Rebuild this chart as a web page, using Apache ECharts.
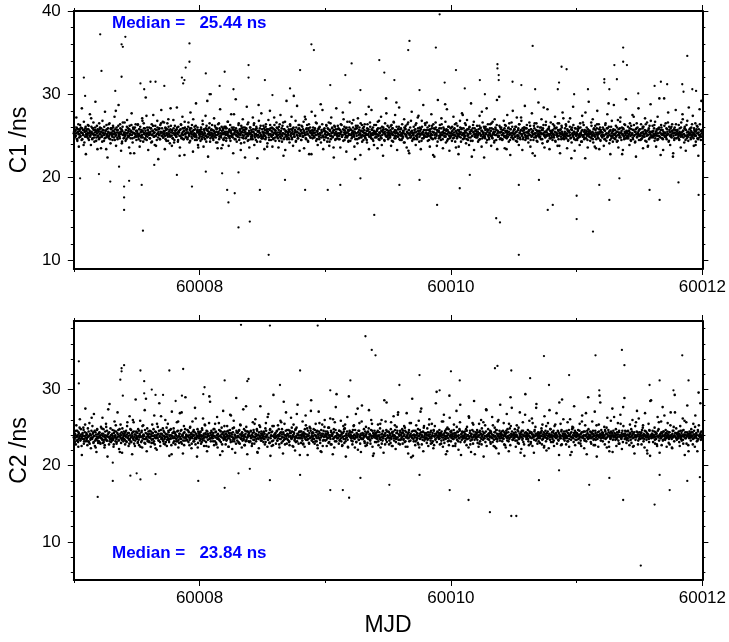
<!DOCTYPE html>
<html><head><meta charset="utf-8">
<script src="https://cdn.jsdelivr.net/npm/echarts@6/dist/echarts.min.js"></script>
<style>html,body{margin:0;padding:0;background:#fff}#chart{width:729px;height:642px}</style>
</head><body><div id="chart"></div><script>
// ---- axes / ticks ----
const xMin = 60007, xMax = 60012;
const xMajorTicks = [60008, 60010, 60012];
const xMinorTicks = [60007, 60009, 60011];
const c1Min = 9, c1Max = 40;
const c1MajorTicks = [10, 20, 30, 40];
const c1MinorTicks = [12, 14, 16, 18, 22, 24, 26, 28, 32, 34, 36, 38];
const c2Min = 5, c2Max = 39;
const c2MajorTicks = [10, 20, 30];
const c2MinorTicks = [6, 8, 12, 14, 16, 18, 22, 24, 26, 28, 32, 34, 36, 38];
const c1Median = 25.44, c2Median = 23.84;
const xTitle = 'MJD', c1Title = 'C1 /ns', c2Title = 'C2 /ns';

// ---- regularly sampled band values (ns); two interleaved sample sets per panel ----
const bandStep = 0.004;
const bandStartA = 60007, bandStartB = 60007.002;
const c1BandA = [
25.3,26.1,24.8,25.6,25.0,27.2,25.9,24.4,25.5,26.4,23.7,25.2,25.8,24.9,26.0,25.4,28.3,24.6,25.7,25.1,26.7,24.2,25.5,25.9,22.8,
25.6,24.9,25.2,26.3,25.8,24.5,25.0,27.6,25.4,23.9,26.1,25.3,24.7,25.9,26.6,25.1,24.3,25.7,29.1,25.5,24.8,26.2,23.4,25.0,25.6,
24.6,25.8,26.0,25.2,23.5,25.5,24.9,26.8,25.3,25.7,24.4,25.1,27.9,25.6,24.8,26.3,25.0,22.4,25.9,25.4,24.7,26.5,25.2,24.1,25.8,
25.9,25.1,24.5,26.2,25.6,24.8,27.3,25.3,25.0,23.8,26.0,25.7,24.6,25.4,28.7,25.2,24.9,26.4,25.5,23.2,25.8,24.3,26.1,25.1,24.7,
25.2,26.6,25.0,24.4,25.7,25.3,26.9,24.8,25.9,25.5,23.6,26.2,25.1,24.7,25.6,27.7,25.4,24.2,26.0,25.8,22.9,25.3,24.9,26.4,25.0,
24.9,25.5,26.3,25.1,24.6,25.8,23.7,26.1,25.4,24.8,25.0,27.1,25.6,24.3,26.5,25.2,25.9,24.7,29.6,25.3,24.5,26.0,25.7,23.3,25.4,
26.0,24.7,25.3,25.9,24.2,26.4,25.1,25.6,27.5,24.9,25.4,23.9,26.2,25.0,25.7,24.5,26.8,25.3,22.2,25.8,25.1,24.6,26.3,25.5,28.1,
25.4,25.0,26.7,24.8,25.6,25.2,23.4,26.0,25.9,24.4,25.3,26.5,24.9,27.0,25.5,25.1,24.1,25.8,26.2,25.0,23.8,25.6,24.7,26.9,25.3,
24.5,26.2,25.1,25.7,24.9,28.4,25.4,24.3,26.1,25.6,25.0,23.6,25.8,26.4,24.7,25.2,27.3,25.5,24.6,25.9,22.7,26.0,25.3,24.8,25.7,
25.8,24.6,25.4,26.6,25.1,24.2,25.9,27.8,25.3,24.9,26.3,25.5,23.1,25.0,25.7,26.1,24.5,25.2,28.9,24.8,25.6,26.0,23.9,25.4,24.7,
25.1,25.7,24.4,26.0,25.5,24.9,26.8,25.2,23.7,25.8,25.3,24.6,27.4,25.0,26.2,24.8,25.6,22.5,25.9,25.3,26.5,24.3,25.1,25.7,24.9,
26.3,25.2,24.7,25.6,27.1,24.9,25.4,26.0,24.2,25.8,25.1,23.5,26.4,25.5,24.6,25.9,28.2,25.0,24.8,26.1,25.3,23.9,25.7,24.5,25.2,
24.8,25.5,26.1,24.4,25.9,25.2,26.7,25.0,23.8,25.6,24.7,26.3,25.4,27.6,24.9,25.1,25.8,22.9,26.0,25.3,24.6,25.7,29.4,25.1,24.3,
25.6,24.9,25.3,26.5,24.5,25.8,25.1,23.3,26.2,25.4,24.8,27.0,25.7,25.0,24.2,26.0,25.5,24.7,25.9,28.5,25.2,24.4,26.6,25.3,23.6,
25.3,26.0,24.6,25.7,25.1,24.9,27.2,25.5,26.3,23.9,25.2,25.8,24.5,26.1,25.0,22.3,25.6,24.8,26.8,25.4,25.9,24.3,25.1,27.7,24.7,
24.9,25.4,26.2,25.0,23.4,25.7,24.6,26.4,25.3,25.8,24.1,25.5,26.9,24.8,25.2,28.0,25.9,24.5,25.6,26.0,23.7,25.1,24.7,25.8,26.3,
25.7,24.4,25.2,26.6,25.0,25.9,24.7,23.6,26.1,25.4,24.9,27.5,25.6,25.1,24.3,26.2,25.3,22.6,25.8,24.8,26.7,25.5,25.0,29.2,24.6,
26.1,25.3,24.8,25.6,24.2,26.4,25.1,25.8,27.3,24.6,25.5,23.8,26.0,25.2,24.9,25.7,26.8,24.4,25.4,28.6,25.0,24.7,26.3,25.9,23.2,
25.0,25.6,24.5,26.2,25.3,24.9,25.8,26.7,23.5,25.4,25.1,27.0,24.6,25.9,26.3,25.2,24.3,25.7,22.8,25.5,26.0,24.8,25.3,27.9,25.1,
24.7,26.0,25.4,24.9,25.7,27.4,25.1,24.4,26.5,25.6,23.9,25.2,25.9,24.6,26.1,25.3,28.8,24.8,25.5,26.4,25.0,23.4,25.8,24.5,25.6,
25.5,24.8,26.3,25.1,24.3,25.9,25.2,26.6,23.8,25.7,25.0,24.6,27.2,25.4,26.0,24.9,25.6,22.4,26.2,25.3,24.5,25.8,28.3,25.1,24.7,
26.2,25.0,24.6,25.8,25.3,23.6,26.4,25.5,24.9,25.1,27.8,24.4,25.7,26.1,25.2,24.8,25.9,23.1,25.4,26.7,25.0,24.3,25.6,26.0,29.0,
24.4,25.7,25.2,26.5,24.9,25.4,26.9,25.0,23.7,25.8,24.6,26.2,25.3,25.9,24.1,27.1,25.5,24.7,26.0,25.2,22.7,25.6,24.8,26.3,25.1,
25.9,24.5,26.1,25.3,25.0,24.7,27.6,25.6,24.2,26.4,25.1,25.8,23.4,25.4,26.6,24.9,25.2,28.1,25.7,24.6,26.0,25.3,23.9,25.5,24.8,
25.2,26.3,24.8,25.6,23.5,25.9,25.1,26.8,24.5,25.4,25.0,27.3,24.7,26.1,25.5,22.6,25.8,25.3,24.4,26.5,25.0,29.5,24.9,25.7,26.2,
24.6,25.4,26.0,25.1,24.8,25.7,23.8,26.3,25.2,25.9,24.3,26.7,25.5,25.0,27.5,24.7,25.6,26.1,23.3,25.3,24.9,25.8,28.4,25.1,24.5,
25.8,25.0,24.5,26.4,25.3,24.9,25.6,27.0,24.2,25.9,26.2,25.1,23.6,25.4,24.7,26.6,25.7,22.9,25.2,26.0,24.8,25.5,27.9,24.4,25.3,
25.1,26.1,25.4,24.6,25.8,23.9,26.5,25.0,24.8,27.2,25.6,25.2,24.3,26.0,25.9,23.4,25.3,26.8,24.7,25.5,28.7,25.1,24.9,25.7,26.3,
24.9,25.3,26.6,25.2,24.4,25.7,25.0,26.2,23.7,25.5,24.8,27.6,25.9,25.1,24.6,26.4,25.4,22.5,25.8,24.7,26.0,25.2,23.8,25.6,29.3,
25.6,24.7,25.9,26.3,25.0,24.5,27.1,25.4,25.1,23.5,26.0,25.7,24.9,25.3,26.7,24.2,25.8,28.2,25.2,24.6,25.5,26.1,23.2,25.0,24.8,
25.3,26.0,24.4,25.6,25.1,27.3,24.8,25.9,26.4,25.0,23.6,25.5,24.7,26.2,25.2,22.8,25.7,24.9,26.8,25.4,24.3,25.8,27.7,25.1,24.6,
25.9,25.2,24.7,26.5,25.4,24.1,25.7,26.9,25.0,24.5,25.8,23.9,26.1,25.3,24.8,28.9,25.6,25.0,24.4,26.3,25.5,23.3,25.9,24.9,25.2,
24.8,25.5,26.2,25.0,24.3,25.8,25.3,27.4,24.6,26.0,25.1,23.7,25.6,26.6,24.9,25.4,22.4,25.9,24.7,26.1,25.2,28.3,24.5,25.7,25.0,
25.7,24.6,25.3,26.4,25.0,23.8,25.9,24.8,26.7,25.2,25.5,24.2,27.0,25.1,25.8,24.5,26.3,23.4,25.6,25.0,24.9,29.7,25.4,26.0,24.7,
26.0,25.1,24.5,25.7,25.3,26.8,24.9,23.5,25.6,26.2,25.0,24.7,27.5,25.4,25.9,24.3,26.5,25.2,22.7,25.8,24.8,25.3,26.1,28.0,24.6,
25.2,25.8,24.9,26.1,24.4,25.5,27.2,25.0,24.7,25.9,23.9,26.4,25.3,24.6,25.7,26.8,25.1,23.3,25.6,24.8,26.0,25.4,28.6,24.5,25.9,
24.7,26.3,25.4,25.0,24.2,25.7,26.6,25.1,23.7,25.8,24.9,27.7,25.5,25.2,24.5,26.2,25.9,22.6,25.3,24.8,26.5,25.0,24.3,25.6,29.0,
25.5,24.8,26.0,25.3,24.6,27.0,25.7,24.1,25.9,26.3,25.1,23.6,25.4,24.9,26.7,25.6,25.0,28.2,24.4,25.8,26.1,23.4,25.2,24.7,25.5,
25.0,25.6,24.5,26.4,25.2,24.8,25.9,27.3,24.3,25.4,26.0,25.1,23.8,25.7,24.6,26.5,25.3,22.9,25.8,24.9,26.2,25.5,27.8,24.7,25.1,
24.6,25.3,25.9,24.9,26.2,25.1,23.5,25.6,24.4,26.7,25.0,25.4,27.1,24.7,25.8,24.2,26.0,25.2,28.5,24.8,25.5,23.2,25.9,24.5,25.0,
25.2,24.5,25.8,26.1,24.8,25.0,23.9,26.5,25.3,24.3,25.6,27.4,24.9,25.1,26.3,24.6,25.7,22.3,25.4,24.7,26.0,25.2,23.6,25.5,29.1,
24.9,25.6,24.4,25.3,26.6,24.7,25.1,27.0,24.2,25.8,25.0,23.7,26.2,25.4,24.6,25.9,28.0,24.8,25.2,26.4,23.4,25.5,24.5,25.7,25.0,
25.4,24.8,26.0,25.1,23.8,25.7,24.6,26.3,25.2,24.4,25.9,27.6,24.9,25.3,26.1,24.1,25.6,22.8,25.0,24.7,26.8,25.5,24.3,25.8,28.7,
25.1,25.7,24.6,26.2,25.0,24.3,25.5,26.9,23.6,25.2,24.8,25.9,27.2,25.4,24.5,26.0,25.1,23.3,25.8,24.9,26.4,25.3,24.7,29.4,25.6,
24.7,25.3,26.1,24.9,25.6,23.9,26.5,25.0,24.4,25.8,25.2,27.5,24.6,25.7,26.3,25.1,24.2,25.5,22.5,25.9,24.8,26.0,25.3,28.3,24.5,
25.8,25.0,24.5,26.4,25.3,24.7,25.9,23.5,26.1,25.2,24.9,27.1,25.6,25.4,24.3,26.6,25.1,23.8,25.7,24.6,26.2,25.5,28.8,24.8,25.0,
25.5,26.2,24.8,25.1,25.9,24.4,26.7,25.3,23.7,25.6,25.0,27.3,24.6,25.8,26.0,24.9,25.4,22.7,26.3,25.2,24.7,25.7,23.3,25.1,29.5,
24.9,25.4,26.5,25.0,24.6,25.8,25.2,27.8,24.3,26.1,25.5,23.9,25.9,25.1,24.8,26.4,25.6,22.9,25.3,24.5,26.0,25.7,28.1,24.7,25.2,
25.7,24.8,25.3,26.3,24.5,25.9,25.1,23.6,26.6,25.4,24.9,27.0,25.6,25.2,24.2,26.1,25.8,23.2,25.0,24.7,26.8,25.5,24.4,28.4,25.3,
25.1,25.9,24.6,26.0,25.4,24.9,27.4,25.2,23.8,25.7,25.0,26.5,24.3,25.6,26.2,24.7,25.3,22.6,25.8,24.8,26.4,25.1,24.5,29.2,25.6
];
const c1BandB = [
25.5,25.1,24.9,25.7,25.3,26.0,24.6,25.4,25.8,25.2,24.8,25.6,26.3,25.0,25.4,24.5,25.9,25.3,25.1,23.9,25.7,25.5,24.9,26.1,25.2,
25.0,25.8,25.4,24.7,26.2,25.3,25.6,24.9,25.1,27.1,25.5,24.6,25.9,25.2,25.7,24.8,25.4,26.0,25.1,24.4,25.6,25.3,25.8,24.9,25.5,
26.5,25.2,24.8,25.5,25.9,25.0,24.3,25.7,25.4,25.1,26.1,24.7,25.3,25.6,23.4,25.8,25.2,24.9,25.5,26.4,25.0,25.3,24.6,25.9,25.4,
25.3,24.9,25.6,26.0,25.2,25.5,24.5,25.8,28.0,25.1,25.4,24.8,25.7,26.2,25.0,25.3,24.7,25.9,25.5,25.2,24.1,25.6,26.6,25.1,25.4,
24.8,25.4,25.1,25.7,24.6,26.1,25.3,25.0,25.6,24.9,25.8,25.2,22.9,25.5,26.3,25.1,24.7,25.4,25.9,25.3,24.8,26.0,25.2,25.6,24.5,
25.6,25.3,26.4,24.9,25.2,25.8,25.0,24.4,25.5,25.7,25.1,26.8,24.8,25.4,25.9,25.3,24.6,25.6,25.0,27.4,25.2,24.9,25.7,25.4,25.1,
25.2,24.7,25.5,25.9,25.1,24.3,25.6,26.2,25.3,24.9,25.4,25.8,25.0,23.8,25.7,25.2,26.0,24.8,25.5,25.1,25.9,24.6,25.3,26.5,25.0,
25.9,25.4,24.8,25.2,26.6,25.5,25.0,24.6,25.7,25.3,25.1,25.8,24.4,26.1,25.2,25.6,24.9,28.3,25.4,25.0,25.7,24.7,25.3,25.9,24.2,
25.1,25.6,25.3,24.9,25.8,26.0,25.2,24.5,25.5,25.4,22.6,25.7,25.0,26.3,24.8,25.3,25.9,25.1,24.6,25.6,26.7,25.2,24.9,25.4,25.8,
25.4,24.8,26.1,25.3,25.0,25.7,24.4,25.5,25.9,25.2,24.7,25.6,27.0,25.1,25.3,24.9,25.8,26.2,25.0,24.5,25.4,25.7,23.6,25.5,25.2,
24.9,25.5,25.2,25.8,24.6,25.4,26.4,25.1,24.8,25.6,25.3,25.0,25.9,24.3,25.7,29.2,25.2,24.9,25.5,26.0,25.1,24.7,25.4,25.8,25.3,
25.7,25.0,24.5,25.6,25.3,26.2,25.1,24.8,25.5,25.9,24.2,25.4,25.2,26.5,24.9,25.7,25.3,25.0,23.5,25.6,25.2,25.9,24.6,25.4,26.1,
25.3,25.9,25.1,24.7,25.5,25.2,26.7,25.4,24.9,25.8,25.0,24.4,25.6,25.3,26.0,25.1,24.8,25.7,27.6,25.2,25.5,24.6,25.9,25.0,25.4,
25.0,25.4,26.3,25.2,24.8,25.6,25.3,24.1,25.9,25.5,25.1,26.0,24.7,25.4,25.7,22.4,25.2,25.8,24.9,25.3,26.4,25.0,24.5,25.6,25.2,
26.0,25.3,24.9,25.5,25.1,24.6,25.8,25.4,26.5,25.0,24.8,25.7,25.2,25.9,24.3,25.5,25.1,28.7,25.6,24.9,25.3,26.2,25.0,24.7,25.8,
25.5,24.7,25.2,25.9,25.4,25.0,26.1,24.8,25.6,23.7,25.3,25.8,25.1,24.5,25.7,26.3,25.2,25.0,24.9,25.5,25.9,24.6,25.3,27.2,25.4,
24.8,25.6,25.3,26.0,24.9,25.4,25.1,25.7,24.4,26.4,25.2,25.5,24.7,25.9,25.0,25.3,26.6,24.6,25.8,25.2,23.3,25.6,25.1,24.9,25.5,
25.4,25.1,25.8,24.6,25.5,26.2,25.0,25.3,24.8,25.7,25.9,25.2,29.8,24.9,25.4,25.6,24.3,26.0,25.1,25.5,24.7,25.8,25.3,26.3,25.0,
25.2,25.7,24.5,25.4,26.1,25.0,24.9,25.6,25.3,27.3,25.1,24.7,25.8,25.5,25.2,24.4,25.9,26.4,25.0,25.4,24.8,25.6,22.8,25.3,25.7,
25.6,25.0,25.3,24.8,25.9,25.4,26.6,25.1,24.6,25.5,25.2,25.8,24.9,26.0,25.3,25.1,24.2,25.7,25.4,28.1,25.0,24.8,25.6,25.9,25.2,
24.9,25.5,26.2,25.1,25.4,24.7,25.8,25.2,24.3,25.6,26.5,25.0,25.3,25.9,24.8,25.4,23.6,25.7,25.1,26.1,24.6,25.5,25.2,25.0,25.8,
25.3,25.9,25.0,24.6,25.7,25.2,25.5,26.3,24.9,25.1,25.8,27.0,25.4,24.5,25.6,25.3,25.0,26.0,24.8,25.4,25.7,24.4,25.2,26.7,25.1,
25.8,25.1,24.7,25.4,25.6,26.0,25.2,24.9,25.5,22.2,25.3,25.9,25.0,24.6,26.2,25.4,25.1,25.7,24.8,25.3,26.5,25.0,25.6,24.3,25.5,
25.0,25.4,25.7,26.4,24.8,25.3,25.1,24.5,25.9,25.6,25.2,28.5,24.9,25.5,26.1,25.0,24.7,25.8,25.3,25.1,24.4,25.6,26.3,25.2,25.4,
25.5,24.9,25.2,25.8,26.7,25.0,24.6,25.4,25.3,25.9,24.8,25.6,23.9,25.1,25.7,26.0,25.3,24.5,25.5,25.2,25.8,27.7,24.9,25.4,25.0,
25.2,25.6,24.8,25.3,25.0,26.2,25.5,24.4,25.9,25.1,25.4,26.6,24.7,25.7,25.3,25.0,29.0,25.4,24.9,25.8,25.2,26.1,24.6,25.5,25.1,
25.9,25.3,25.1,24.7,25.6,25.4,24.2,26.0,25.2,25.8,25.0,24.9,25.5,26.4,25.3,23.2,25.7,25.1,24.8,25.4,26.8,25.0,25.6,25.3,24.6,
25.1,24.8,25.7,25.4,26.3,25.0,25.5,24.6,25.2,25.9,27.4,25.3,24.9,25.6,25.1,25.8,24.4,26.1,25.2,25.4,24.7,25.7,25.0,26.5,25.3,
25.4,25.7,24.9,26.0,25.1,25.3,24.5,25.6,25.8,25.0,25.2,24.7,26.2,25.5,22.7,25.4,25.9,25.1,24.8,26.6,25.3,25.0,25.7,24.3,25.5,
25.6,25.0,25.4,24.8,25.2,25.9,26.4,25.1,24.6,25.5,25.3,25.8,25.0,28.8,24.9,25.6,25.2,24.4,25.7,26.1,25.4,25.0,24.7,25.3,25.9,
25.0,25.5,26.1,25.2,24.7,25.8,25.4,25.1,24.3,25.6,26.5,25.3,24.9,25.7,25.0,23.7,25.5,25.2,26.0,24.8,25.4,25.9,25.1,27.5,25.3,
25.3,24.9,25.6,25.0,26.3,25.4,24.6,25.8,25.2,25.1,24.8,26.0,25.5,25.3,24.4,25.7,22.5,25.0,25.9,25.4,26.7,25.2,24.9,25.6,25.1,
25.7,25.2,24.8,25.5,25.1,24.5,26.2,25.3,25.9,25.0,25.6,27.9,24.7,25.4,25.2,26.1,25.0,24.9,25.7,25.3,24.2,25.8,25.5,26.4,25.1,
24.8,25.4,25.9,25.1,25.6,26.5,25.0,24.7,25.3,25.8,25.2,24.4,25.5,26.0,25.1,25.7,29.3,25.3,24.9,25.5,25.0,26.2,24.6,25.4,25.8,
25.5,25.1,24.6,25.7,25.3,25.0,25.9,26.3,24.8,25.4,23.4,25.6,25.2,24.9,26.0,25.5,25.1,24.5,25.8,25.3,26.6,25.0,25.4,24.7,25.6,
25.2,25.8,25.3,24.9,26.1,25.5,24.3,25.1,25.7,25.0,26.4,25.4,24.8,25.6,27.2,25.2,25.0,25.9,24.6,25.3,25.7,26.0,25.1,24.9,25.4,
25.9,25.0,25.5,24.7,25.3,25.6,25.1,26.2,24.5,25.8,25.4,25.0,22.9,25.6,25.2,24.8,26.5,25.3,25.0,25.7,24.4,25.5,26.1,25.2,25.0,
25.1,25.6,24.9,25.4,26.0,25.2,24.6,25.7,25.3,28.4,25.0,25.5,24.8,26.3,25.1,25.4,24.3,25.8,25.2,25.9,25.0,24.7,25.6,26.6,25.3,
25.4,24.8,25.7,25.2,25.0,26.2,25.5,24.4,25.9,25.1,25.3,24.9,26.5,25.6,25.0,23.8,25.4,25.7,25.2,24.6,26.0,25.3,25.1,27.1,24.9,
25.0,25.5,25.2,26.4,24.7,25.3,25.8,25.0,24.5,25.6,25.4,26.1,25.1,24.8,22.3,25.7,25.3,25.0,26.3,25.5,24.6,25.2,25.9,25.1,25.4,
25.3,24.7,25.6,25.0,25.9,25.2,24.9,26.0,25.4,25.1,24.3,25.7,26.6,25.0,25.5,24.8,25.2,27.8,25.4,25.6,25.0,24.5,25.8,25.1,25.3,
25.6,25.2,24.8,25.4,26.2,25.0,25.5,24.6,25.3,25.9,25.1,24.9,25.7,23.5,25.2,26.4,25.0,25.4,24.7,25.8,25.3,26.0,24.4,25.5,25.1,
24.9,25.4,25.1,25.8,25.0,24.6,25.6,26.5,25.2,25.3,24.8,25.9,25.0,28.9,25.5,25.1,24.5,25.7,26.1,25.3,25.0,24.9,25.6,25.2,24.7,
25.2,25.7,25.3,24.9,25.5,26.0,24.4,25.1,25.8,25.4,25.0,26.7,24.8,25.3,25.6,22.8,25.2,25.9,25.0,24.6,25.5,26.3,25.1,25.4,24.9,
25.5,25.0,24.7,25.6,25.2,25.9,25.4,24.5,26.2,25.1,25.3,24.8,25.7,27.3,25.0,25.5,24.3,25.8,25.2,26.5,24.9,25.4,25.1,25.6,25.0,
25.1,25.8,25.3,24.6,25.4,25.0,26.1,25.5,24.9,25.2,25.7,24.4,26.4,25.3,25.0,25.6,23.7,25.1,25.9,25.4,24.8,25.2,26.8,25.0,25.5,
25.4,24.9,25.6,25.2,26.3,25.0,24.7,25.5,25.1,25.8,24.5,25.3,25.9,25.0,29.5,25.4,24.8,25.7,26.0,25.2,25.1,24.6,25.5,25.3,26.2,
25.0,25.3,24.8,25.9,25.1,25.5,26.6,25.2,24.4,25.7,25.0,25.4,24.9,26.1,25.6,25.3,22.5,25.0,25.8,24.7,25.4,25.1,26.4,25.2,25.5,
25.7,25.2,25.0,24.6,25.5,25.3,24.9,26.0,25.4,25.1,27.6,25.6,24.8,25.2,25.9,25.0,24.5,25.7,26.3,25.4,25.1,24.9,25.5,25.2,25.8,
25.3,24.8,25.6,25.1,26.4,25.0,25.4,24.7,25.9,25.2,25.5,23.9,25.0,25.8,25.3,26.1,24.6,25.4,25.1,28.2,25.0,25.6,24.9,25.3,25.7
];
const c2BandA = [
23.7,24.5,23.1,24.0,22.8,25.3,23.9,24.6,23.4,22.5,24.2,23.8,26.1,23.3,24.8,23.6,21.4,24.1,23.9,25.0,22.9,23.5,24.4,27.5,23.2,
24.3,23.6,22.7,24.9,23.8,23.1,25.6,24.0,23.4,22.3,24.6,23.7,25.2,24.2,23.0,26.8,23.9,22.6,24.4,23.5,21.8,24.7,23.3,24.1,23.8,
23.2,24.4,23.9,22.9,25.1,23.6,24.2,26.3,23.0,24.8,23.4,22.4,24.0,23.7,25.5,23.3,24.6,21.2,23.8,24.3,22.8,28.1,23.5,24.9,23.1,
24.0,23.3,24.7,23.6,22.5,24.3,25.8,23.9,23.2,24.5,22.9,23.7,27.0,24.1,23.4,22.2,24.8,23.8,25.4,23.0,24.4,21.7,23.6,24.2,23.9,
23.5,24.2,22.8,23.9,24.6,23.1,25.2,23.7,24.3,22.6,23.4,26.5,24.0,23.2,24.7,23.8,21.5,24.4,23.6,25.7,22.9,24.1,23.3,28.7,24.5,
24.4,23.7,23.0,24.8,23.4,22.7,24.2,25.9,23.8,23.1,24.6,22.4,23.9,25.3,24.0,23.5,27.3,22.9,24.3,23.6,21.9,24.9,23.2,24.1,23.7,
23.1,24.6,23.8,22.5,24.1,23.4,25.4,24.3,23.0,23.9,26.6,22.8,24.5,23.6,24.0,22.1,23.7,25.1,24.2,23.3,28.2,23.9,22.6,24.7,23.5,
24.2,23.5,24.9,23.2,22.9,24.4,23.7,26.0,23.1,24.1,22.6,23.8,25.5,24.6,23.4,21.3,24.0,23.6,24.8,22.7,27.1,23.9,24.3,23.0,24.5,
23.8,24.3,22.8,24.0,23.5,25.7,23.2,24.6,22.4,23.9,24.2,26.9,23.6,23.1,24.7,22.9,24.1,21.6,23.7,25.2,24.4,23.3,29.0,23.8,24.0,
23.4,24.7,23.9,23.1,24.4,22.7,25.0,23.6,24.1,22.3,23.8,25.8,24.5,23.2,24.0,23.5,27.6,22.8,24.2,23.7,21.2,24.8,23.0,24.3,23.9,
24.1,23.3,24.5,22.9,23.8,24.9,23.4,26.2,24.0,22.6,23.7,25.3,24.3,23.1,24.6,21.9,23.9,24.2,22.5,25.6,23.5,28.4,24.0,23.6,24.4,
23.6,24.0,23.2,24.8,22.7,23.9,25.5,24.4,23.0,23.7,26.4,22.4,24.1,23.5,24.7,23.3,21.4,24.5,23.8,25.0,22.8,24.2,27.2,23.4,23.9,
24.5,23.7,22.8,24.2,23.4,25.2,23.9,24.6,22.5,23.6,24.0,26.7,23.1,24.3,23.8,22.2,24.9,23.5,25.9,23.2,24.1,21.7,23.7,28.9,24.4,
23.3,24.4,23.8,23.0,24.7,22.9,25.4,24.1,23.6,22.4,24.3,23.9,27.4,23.4,24.0,22.7,24.6,23.2,25.1,23.7,21.5,24.5,23.9,24.2,23.1,
23.9,23.2,24.6,23.7,22.6,24.0,25.7,23.4,24.4,22.9,23.8,26.1,24.2,23.5,24.8,21.8,23.6,24.1,22.3,25.3,23.9,27.8,23.3,24.5,23.7,
24.2,23.8,23.1,24.5,23.5,22.8,24.9,25.6,23.7,24.0,22.5,23.4,26.8,24.3,23.0,24.7,21.3,23.9,24.4,23.2,25.2,22.7,29.3,23.8,24.1,
23.6,24.3,22.9,23.8,24.6,23.3,25.3,23.9,24.1,22.4,23.5,25.9,24.4,23.0,24.8,23.7,21.6,24.2,23.4,25.5,22.8,24.0,27.0,23.6,24.7,
24.0,23.4,24.7,23.1,22.7,24.3,23.8,26.3,23.5,24.5,22.6,23.9,25.4,24.2,23.3,22.0,24.8,23.7,25.0,23.2,28.0,24.1,22.9,24.4,23.6,
23.7,24.5,23.0,24.1,23.6,25.8,22.8,24.4,23.9,22.5,24.2,26.6,23.4,23.8,24.9,21.4,23.5,24.0,22.9,25.1,23.7,24.6,28.6,23.3,24.3,
24.4,23.1,24.8,23.5,22.9,24.0,25.5,23.8,23.2,24.6,22.3,24.1,27.1,23.6,24.3,23.0,21.9,24.7,23.9,25.4,22.6,24.2,23.4,23.8,26.0,
23.3,24.2,23.8,22.6,24.5,23.6,25.0,24.0,23.1,23.7,26.2,22.8,24.4,23.9,24.1,21.5,23.5,24.8,22.4,25.7,23.8,27.7,23.2,24.3,23.6,
24.1,23.7,22.9,24.6,23.4,24.0,25.9,23.2,24.3,22.7,23.8,25.2,24.5,23.0,24.9,23.5,21.2,24.2,23.7,26.4,22.5,24.0,29.1,23.9,24.4,
23.8,24.4,23.3,23.9,22.8,24.7,23.6,25.3,24.1,22.4,23.7,26.8,23.1,24.2,23.9,22.1,24.6,23.4,25.6,23.8,24.0,21.8,23.5,27.9,24.3,
23.5,24.0,24.8,23.2,23.9,22.6,25.1,24.3,23.7,23.0,24.5,23.6,27.3,24.1,23.4,22.9,24.7,23.8,25.5,22.5,21.3,24.2,23.9,24.6,23.1,
24.3,23.6,23.1,24.4,23.8,25.4,22.7,24.0,23.5,24.9,22.4,23.7,26.0,24.2,23.3,24.6,21.7,23.9,24.1,22.8,25.8,23.4,28.3,24.5,23.7,
23.9,24.5,22.8,23.6,24.2,23.0,25.7,23.8,24.4,22.6,24.0,26.5,23.3,23.9,24.7,22.2,23.5,25.1,24.3,23.7,27.0,22.9,24.1,23.4,24.6,
23.4,24.1,23.7,24.8,22.9,24.3,23.5,25.2,23.1,24.6,22.5,23.8,26.9,24.0,23.6,21.6,24.4,23.2,25.6,23.9,24.2,21.1,23.7,28.8,24.0,
24.6,23.2,24.0,23.7,22.7,24.5,25.3,23.4,24.2,23.0,23.9,25.9,22.4,24.7,23.6,24.1,27.5,22.8,23.8,24.4,21.9,25.0,23.3,24.3,23.5,
23.7,24.3,23.0,24.9,23.5,22.6,24.1,26.1,23.8,24.4,22.9,23.6,25.5,24.0,23.2,22.3,24.6,23.9,25.2,23.4,28.2,24.2,23.1,24.5,23.8,
24.0,23.5,24.7,22.8,23.9,24.3,23.3,25.8,24.1,22.5,23.7,26.7,23.0,24.4,23.6,21.5,24.8,23.8,25.0,23.2,24.2,22.7,29.2,23.9,24.5,
23.2,24.6,23.8,24.1,22.6,23.5,25.4,24.3,23.7,22.9,24.0,27.2,23.4,24.5,23.9,22.1,23.6,24.8,25.7,23.1,21.4,24.2,23.8,24.4,23.6,
24.4,23.9,23.1,24.2,23.6,24.8,22.7,25.1,23.5,24.0,22.4,26.3,23.8,24.6,23.3,21.8,24.1,23.7,25.6,22.9,24.5,28.5,23.4,24.0,23.7,
23.6,24.2,24.7,23.0,23.8,22.5,25.5,24.4,23.2,24.1,26.0,22.8,23.9,24.5,23.4,21.2,24.3,23.6,25.3,23.9,27.4,22.6,24.0,23.5,24.8,
24.1,23.4,23.9,24.6,22.9,24.3,23.7,26.4,23.1,24.0,22.6,23.8,25.0,24.4,23.5,22.3,24.7,23.2,25.8,23.9,21.6,24.2,23.6,28.0,24.3,
23.8,24.5,23.2,24.0,23.6,25.6,22.8,24.2,23.9,22.4,24.6,26.8,23.3,23.7,24.4,21.9,23.5,24.9,22.7,25.2,23.8,27.6,24.1,23.4,24.0,
24.3,23.7,24.8,23.3,22.5,24.1,25.3,23.9,23.0,24.5,22.9,23.6,27.0,24.2,23.8,22.2,24.6,23.4,25.7,23.1,24.0,21.3,23.9,29.4,24.4,
23.5,24.0,23.6,24.7,23.2,22.7,25.9,24.3,23.8,23.1,24.4,26.2,22.6,24.1,23.7,21.7,24.5,23.9,25.1,23.3,28.1,24.2,22.9,24.0,23.6,
24.2,23.8,23.0,24.4,23.9,24.9,22.8,25.4,23.5,24.1,22.4,26.5,23.7,24.6,23.2,22.0,24.3,23.6,25.6,23.9,24.0,27.3,23.4,24.8,23.1,
23.9,24.4,23.5,23.1,24.6,22.6,25.2,24.0,23.7,24.3,26.9,22.9,23.8,24.5,23.3,21.4,24.1,23.6,25.5,22.7,24.7,28.7,23.9,24.2,23.5,
24.5,23.3,24.1,23.8,22.8,24.6,23.6,25.7,23.2,24.0,22.5,23.9,26.1,24.3,23.4,21.8,24.8,23.7,25.0,23.1,27.8,24.2,22.7,24.4,23.8,
23.4,24.2,23.9,24.7,23.0,23.6,25.5,24.1,23.3,22.6,24.4,26.6,23.7,23.9,24.5,22.3,23.5,25.3,24.0,23.2,21.5,24.6,23.8,29.0,24.1,
24.0,23.6,24.5,23.1,22.9,24.3,25.8,23.8,24.2,22.7,23.5,27.1,24.6,23.4,24.0,21.2,23.9,24.4,22.5,25.4,23.7,24.1,28.3,23.3,24.7,
23.7,24.4,23.2,24.0,23.8,25.1,22.8,24.5,23.6,24.2,22.4,26.3,23.9,24.7,23.1,21.9,24.3,23.5,25.9,23.8,24.0,27.5,23.4,24.6,23.9,
24.3,23.9,23.4,24.8,22.6,24.1,23.7,25.6,23.3,24.4,22.9,23.8,26.7,24.0,23.5,22.2,24.6,23.1,25.2,23.9,28.9,24.2,23.6,24.5,23.0,
23.6,24.1,24.6,23.3,23.9,22.7,25.4,24.2,23.8,23.0,24.5,26.0,22.5,24.3,23.7,21.6,24.0,23.4,25.7,23.9,27.2,24.4,22.8,24.1,23.5,
24.4,23.5,23.9,24.3,22.8,24.7,23.6,25.3,23.2,24.0,22.4,26.9,23.8,24.5,23.4,22.0,24.2,23.7,25.5,23.1,24.6,21.3,23.9,28.6,24.0,
23.8,24.6,23.1,24.0,23.7,25.0,22.9,24.4,23.5,24.2,22.6,26.4,23.9,24.8,23.3,21.7,24.1,23.6,25.8,22.7,24.3,27.7,23.4,24.5,23.9,
24.1,23.4,24.7,23.6,22.5,24.2,25.6,23.9,23.0,24.4,22.8,23.7,27.0,24.0,23.5,22.3,24.6,23.8,25.1,23.2,29.3,24.3,23.7,24.9,23.4,
23.5,24.3,23.8,24.5,23.1,22.6,25.2,24.0,23.7,23.3,24.6,26.2,22.9,24.1,23.9,21.4,24.4,23.6,25.7,23.8,27.9,24.2,22.7,24.0,23.6,
24.2,23.7,23.3,24.8,23.9,24.4,22.8,25.5,23.6,24.1,22.5,26.6,23.8,24.3,23.2,21.9,24.7,23.5,25.3,23.9,24.0,28.2,23.4,24.5,23.8
];
const c2BandB = [
23.9,23.5,24.2,23.7,24.6,23.3,23.8,24.0,23.1,24.4,23.6,25.0,23.9,23.4,24.1,22.6,23.8,24.3,23.5,24.7,23.2,23.9,25.4,23.7,24.0,
23.4,24.1,23.8,23.2,24.5,23.9,22.9,24.2,23.6,24.0,26.3,23.5,23.7,24.4,23.1,23.9,24.6,23.3,22.4,24.1,23.8,24.8,23.6,23.0,24.2,
24.3,23.7,23.0,24.0,23.6,24.9,23.4,23.9,24.2,23.1,23.8,22.7,24.5,23.5,25.1,23.9,23.3,24.1,27.4,23.7,24.4,23.2,23.8,24.0,23.5,
23.6,24.2,23.9,23.4,22.8,24.6,23.7,24.0,25.3,23.5,23.1,24.3,23.8,24.7,23.3,23.9,21.8,24.2,23.6,24.0,23.4,24.9,23.7,23.2,24.5,
24.0,23.4,24.4,23.8,23.2,24.1,25.7,23.6,23.9,24.3,22.9,23.5,24.8,23.7,23.1,24.2,23.9,26.0,23.4,24.5,23.8,22.6,24.1,23.6,23.9,
23.5,24.3,23.1,23.9,24.6,23.7,24.0,22.5,23.8,24.4,23.3,25.2,23.6,24.1,23.9,23.0,24.7,23.5,28.8,23.8,24.2,23.4,23.9,24.5,23.2,
24.2,23.8,23.6,24.5,23.0,23.9,24.3,23.5,24.8,23.2,24.0,23.7,22.3,24.4,23.9,25.5,23.6,24.1,23.3,24.6,23.8,23.1,24.2,26.5,23.7,
23.7,24.0,23.3,24.6,23.9,23.5,22.8,24.2,23.8,25.0,23.4,24.1,23.6,24.4,23.1,23.9,24.7,23.5,24.0,21.5,23.8,24.3,23.6,24.9,23.2,
24.4,23.6,24.1,23.2,23.9,24.5,23.7,25.8,23.4,23.0,24.2,23.8,24.6,23.5,27.0,23.9,24.0,23.3,24.3,22.7,23.7,24.8,23.6,24.1,23.9,
23.3,23.9,24.6,23.7,24.0,23.4,25.1,23.8,24.3,22.9,23.6,24.1,23.9,24.7,23.2,24.4,23.7,26.2,23.5,24.0,23.8,22.4,24.5,23.6,24.2,
23.8,24.4,23.5,24.0,23.1,24.7,23.9,23.6,24.2,23.3,25.4,23.8,24.1,22.6,23.7,24.5,23.4,24.0,23.9,29.1,23.6,24.3,23.2,24.6,23.8,
24.1,23.6,24.3,23.9,24.8,23.2,23.7,24.5,22.8,24.0,23.5,24.2,23.8,25.6,23.4,23.9,24.6,23.1,24.1,23.7,21.9,24.4,23.6,24.0,25.2,
23.5,24.2,23.8,23.3,24.5,24.0,23.6,22.5,24.3,23.9,24.7,23.4,26.6,23.8,24.1,23.2,24.4,23.7,25.0,23.5,24.0,23.9,22.9,24.6,23.7,
24.3,23.9,23.1,24.6,23.7,24.1,25.3,23.5,23.9,24.4,23.3,24.0,23.6,24.8,22.7,23.8,24.2,27.8,23.4,24.5,23.7,24.0,23.2,24.3,23.9,
23.9,24.5,23.6,24.0,22.9,24.3,23.8,24.7,23.4,25.5,23.7,24.1,23.2,23.9,24.6,21.7,24.0,23.5,24.4,23.8,25.1,23.6,24.2,23.3,24.0,
23.6,24.0,24.4,23.5,24.2,23.8,23.1,24.6,23.9,24.1,26.4,23.4,23.7,24.3,23.0,24.8,23.6,24.0,22.6,24.5,23.9,23.3,25.2,23.8,24.1,
24.2,23.7,23.9,24.5,23.3,24.0,23.6,24.8,22.8,23.9,24.3,23.5,25.7,24.1,23.8,23.2,24.4,28.4,23.7,24.0,23.5,24.6,23.9,22.9,24.2,
23.4,24.1,23.8,23.2,24.6,23.9,24.3,23.6,25.0,23.7,24.0,22.5,24.4,23.8,23.5,24.7,23.1,23.9,26.8,24.2,23.6,24.0,23.7,24.5,21.4,
24.0,23.6,24.5,23.9,23.3,24.2,22.9,24.0,23.7,24.8,23.5,25.3,23.8,24.1,23.4,24.6,23.9,23.0,24.3,23.6,24.9,27.2,23.8,24.0,23.5,
23.8,24.3,23.5,24.0,24.7,23.2,23.9,24.4,23.6,22.7,24.1,23.8,24.5,25.6,23.4,24.0,23.7,21.8,24.2,23.9,23.3,24.6,23.8,25.1,24.0,
24.5,23.9,23.4,24.1,23.7,24.3,23.0,25.0,23.8,24.0,23.5,24.6,22.8,23.9,24.2,26.1,23.6,24.4,23.8,23.2,24.7,23.9,29.4,23.6,24.1,
23.7,24.0,24.6,23.3,23.9,24.5,23.6,24.1,22.6,23.8,24.3,23.5,24.8,23.9,25.4,23.2,24.0,23.7,24.5,23.4,22.4,24.2,23.9,24.6,23.8,
24.1,23.6,23.9,24.4,23.2,23.8,25.2,24.0,23.5,24.7,23.9,23.1,24.3,23.7,27.5,24.1,23.4,24.6,23.8,22.9,24.2,23.6,25.8,24.0,23.5,
23.6,24.2,23.8,23.0,24.5,23.9,24.1,22.7,23.7,24.4,23.5,24.9,23.8,24.2,23.3,24.0,26.0,23.6,24.6,23.9,24.3,21.6,23.7,24.1,23.9,
24.3,23.8,24.0,23.5,24.6,23.2,23.9,24.4,23.7,25.5,23.4,24.1,22.9,23.8,24.5,23.6,24.0,28.6,23.9,24.3,23.5,24.7,23.1,24.0,23.7,
23.9,24.4,23.3,24.0,23.7,24.8,23.5,22.6,24.2,23.9,24.5,23.6,24.0,25.3,23.8,23.1,24.3,23.7,24.6,26.7,23.4,24.1,23.9,22.8,24.4,
24.0,23.5,24.3,23.8,24.6,23.4,23.9,24.1,25.0,23.2,23.7,24.4,23.9,22.5,24.2,23.6,24.7,23.8,24.0,23.3,25.6,23.9,24.5,23.6,21.3,
23.5,24.1,23.9,24.6,23.2,24.0,23.7,24.3,23.6,24.8,22.8,23.9,24.2,23.5,27.1,24.4,23.8,24.0,23.4,24.5,23.7,25.2,23.9,24.1,23.6,
24.2,23.7,24.0,23.4,24.4,23.9,25.4,23.6,24.1,23.3,24.6,23.8,23.0,24.3,23.9,24.7,22.7,23.8,24.2,23.5,24.0,29.7,23.7,24.4,23.9,
23.8,24.3,23.6,24.1,23.9,22.9,24.5,23.7,24.0,25.8,23.4,24.2,23.9,24.6,23.5,23.9,24.3,21.9,24.0,23.6,24.8,23.3,26.3,23.8,24.1,
24.4,23.6,23.9,24.2,23.5,24.7,23.8,24.0,22.6,24.3,23.7,25.1,23.9,24.4,23.2,24.0,23.6,24.6,28.0,23.8,24.1,23.4,24.5,23.9,23.6,
23.7,24.0,24.5,23.3,24.1,23.8,24.6,23.5,24.0,23.9,26.5,23.6,24.3,22.8,23.9,24.2,23.4,24.7,23.7,25.4,23.9,24.1,21.5,23.8,24.4,
24.1,23.8,23.4,24.4,23.9,24.0,22.9,24.6,23.7,24.2,23.5,24.9,23.8,24.1,25.7,23.6,24.3,23.9,23.1,24.5,27.3,23.8,24.0,23.5,24.2,
23.9,24.3,23.7,23.1,24.5,23.8,24.1,23.6,25.3,24.0,23.4,24.4,22.5,23.9,24.7,23.7,24.2,23.5,24.0,26.0,23.8,24.6,23.3,23.9,24.1,
24.2,23.6,24.0,24.6,23.5,23.9,24.4,22.7,24.1,23.8,24.3,23.6,24.8,23.9,23.2,25.5,24.0,23.7,29.0,24.2,23.9,24.5,23.4,24.0,23.7,
23.6,24.1,23.9,24.4,23.8,24.0,23.3,24.7,23.7,25.0,23.5,24.2,23.9,21.7,24.4,23.8,24.1,23.6,24.6,23.9,22.8,24.3,26.7,23.8,24.0,
24.3,23.8,24.2,23.5,24.0,23.9,24.5,23.7,22.9,24.3,23.6,24.1,25.6,23.8,24.0,23.4,24.7,23.9,24.2,27.6,23.5,24.0,23.8,24.4,23.2,
23.8,24.0,23.6,24.3,23.9,24.6,23.4,24.1,23.8,24.4,22.6,23.9,24.2,23.7,25.2,24.0,23.5,24.5,23.9,22.3,24.2,23.7,24.8,23.9,24.1,
24.0,23.7,24.4,23.9,23.3,24.2,23.8,25.4,24.1,23.6,24.0,23.9,24.6,23.4,24.3,28.3,23.8,24.0,23.6,24.5,22.8,23.9,24.2,26.1,23.7,
23.9,24.2,23.6,24.0,24.5,23.8,23.2,24.3,23.9,24.7,23.5,24.1,21.4,23.8,24.4,23.7,25.1,24.0,23.6,24.3,23.9,24.6,23.4,24.0,23.8,
24.3,23.9,24.1,23.5,24.0,24.6,23.8,22.9,24.2,23.7,25.8,23.9,24.4,23.6,24.0,23.3,24.5,23.9,26.9,24.1,23.7,24.3,23.5,24.8,23.9,
23.7,24.0,23.9,24.4,23.6,24.2,23.8,24.6,23.4,24.0,23.9,22.7,24.3,23.7,25.3,24.1,23.5,24.0,23.8,24.5,29.2,23.9,24.2,23.6,24.0,
24.1,23.8,24.3,23.6,24.0,23.9,24.7,23.5,24.2,25.0,23.7,24.1,23.9,24.4,22.5,23.8,24.0,23.6,24.5,23.9,24.3,21.8,24.0,23.7,26.4,
23.9,24.2,23.7,24.0,23.5,24.4,23.8,24.1,22.9,24.6,23.9,24.0,25.5,23.6,24.3,23.8,24.1,27.7,23.9,24.2,23.5,24.6,23.8,24.0,23.4,
24.0,23.6,24.5,23.9,24.1,23.7,24.3,23.4,24.8,23.9,24.0,23.6,24.2,22.6,24.4,23.8,25.2,24.0,23.7,24.5,23.9,24.1,23.3,26.2,23.8,
23.8,24.1,23.9,24.4,23.6,24.0,25.0,23.8,24.2,23.5,24.6,23.9,24.0,23.7,24.3,21.6,23.9,24.1,23.5,24.7,23.8,28.5,24.0,23.6,24.2,
24.2,23.7,24.0,23.9,24.5,23.4,24.1,23.8,24.3,22.8,23.9,24.6,23.7,25.7,24.0,23.9,24.2,23.6,24.4,23.8,24.0,23.3,24.5,23.9,26.6,
23.6,24.0,24.3,23.8,23.9,24.5,23.7,24.1,23.5,24.4,23.9,25.3,23.8,24.0,22.4,24.2,23.7,24.6,23.9,24.0,27.0,23.8,24.3,23.6,24.1,
24.1,23.9,23.6,24.2,24.0,23.8,24.6,23.5,24.3,23.9,24.0,23.4,24.7,23.8,25.9,24.1,23.6,24.0,22.9,24.4,23.9,24.2,21.9,23.8,24.5,
23.8,24.3,24.0,23.7,24.4,23.9,23.5,24.1,24.6,23.8,25.1,23.9,24.2,23.6,24.0,23.3,24.5,29.6,23.9,24.1,23.7,24.3,23.8,24.0,23.6
];

// ---- isolated points read individually: [MJD, ns] ----
const c1Outliers = [
[60007.21,37.2],[60007.22,32.8],[60007.38,36.0],[60007.39,35.7],[60007.41,36.9],[60007.08,32.0],[60007.09,29.8],
[60007.92,36.1],[60007.92,33.9],[60007.89,33.2],[60007.38,32.1],[60007.33,30.4],[60007.53,31.3],[60007.56,30.6],
[60007.61,31.5],[60007.65,31.5],[60007.72,31.0],[60007.86,32.0],[60007.87,31.3],[60007.88,31.7],[60008.05,32.5],
[60008.08,30.0],[60008.09,30.0],[60008.16,31.0],[60008.20,32.7],[60008.27,30.6],[60008.39,33.5],[60008.39,32.0],
[60007.05,19.9],[60007.20,20.4],[60007.29,19.5],[60007.40,18.9],[60007.40,17.6],[60007.40,16.1],[60007.44,19.6],
[60007.54,19.1],[60007.55,13.6],[60007.36,21.3],[60007.64,21.5],[60007.82,20.3],[60007.94,18.9],[60008.05,20.7],
[60008.18,20.5],[60008.22,18.5],[60008.23,17.0],[60008.28,18.1],[60008.31,20.6],[60008.31,14.0],[60008.40,14.7],
[60010.65,35.8],[60011.37,35.6],[60011.37,33.9],[60011.40,33.5],[60011.30,33.5],[60011.32,31.8],[60010.88,33.3],
[60010.92,33.0],[60010.37,33.6],[60010.37,33.1],[60010.38,32.3],[60010.38,31.7],[60010.49,31.5],[60010.56,31.1],
[60010.67,30.6],[60010.86,31.4],[60010.85,30.6],[60011.09,30.6],[60011.22,31.8],[60011.22,31.4],[60011.26,30.6],
[60011.84,31.2],[60011.85,30.3],[60011.92,30.6],[60011.95,30.4],[60011.67,31.5],[60011.72,31.2],[60011.49,30.1],
[60011.62,31.0],[60010.23,31.7],[60010.27,30.0],[60010.98,30.0],[60011.88,34.6],
[60008.55,10.7],[60008.89,36.0],[60008.91,35.3],[60009.21,33.7],[60009.47,32.6],[60009.66,35.3],[60009.67,36.4],
[60009.88,35.6],[60009.91,39.6],[60010.04,32.9],[60009.89,16.7],[60010.36,15.1],[60010.39,14.6],[60010.54,10.7],
[60010.77,16.1],[60010.81,16.7],[60011.00,17.8],[60011.00,15.0],[60011.13,13.5],[60009.39,15.5],[60009.02,18.5],
[60008.84,18.5],[60008.52,31.7],[60008.72,30.7],[60008.80,32.9],[60009.04,31.1],[60009.16,32.3],[60009.28,30.5],
[60009.55,31.7],[60009.75,30.5],[60009.95,31.4],[60010.11,30.7],[60009.43,34.1],[60008.58,29.9],
[60008.48,18.5],[60008.68,19.7],[60009.12,19.1],[60009.28,19.9],[60009.59,19.1],[60009.75,19.7],[60010.07,18.7],
[60010.15,20.3],[60010.54,19.1],[60010.70,19.7],[60011.18,19.1],[60011.34,19.9],[60011.58,18.5],[60011.81,19.4],
[60011.97,17.9],[60011.66,17.3],[60011.26,17.3]
];
const c2Outliers = [
[60007.04,33.7],[60007.04,30.8],[60007.38,32.4],[60007.38,32.8],[60007.40,33.2],[60007.37,31.3],[60007.39,29.2],
[60007.53,32.5],[60007.56,31.1],[60007.56,29.5],[60007.62,30.0],[60007.65,29.3],[60007.71,29.3],[60007.76,32.5],
[60007.87,32.7],[60007.86,29.2],[60007.81,28.5],[60008.04,30.3],[60008.03,29.4],[60008.20,31.2],[60008.33,38.5],
[60008.38,31.1],[60008.39,31.4],
[60007.19,15.9],[60007.31,18.0],[60007.45,18.7],[60007.50,19.0],[60007.53,18.2],[60007.65,18.9],[60007.99,18.0],
[60008.20,17.1],[60008.31,19.0],[60008.40,19.6],[60007.31,20.4],
[60008.56,38.4],[60008.94,38.4],[60009.32,37.0],[60009.37,35.2],[60009.40,34.5],[60009.14,16.8],[60009.19,15.8],
[60010.14,15.5],[60010.31,13.9],[60010.48,13.4],[60010.52,13.4],[60010.35,32.8],[60010.37,33.1],[60011.36,35.2],
[60011.38,33.2],[60011.58,30.6],[60011.51,6.9],[60011.84,34.5],[60011.89,31.2],[60011.88,18.0],[60011.98,18.5],
[60011.62,14.9],[60011.37,15.5],
[60008.64,30.6],[60008.80,32.5],[60009.04,29.9],[60009.20,31.2],[60009.59,30.6],[60009.75,31.9],[60009.91,29.9],
[60010.07,31.2],[60010.63,31.5],[60010.78,30.6],[60010.94,31.9],[60011.15,34.5],[60011.18,29.9],[60011.66,31.2],
[60011.77,29.9],[60010.48,32.5],[60010.00,32.4],[60010.74,34.4],
[60008.56,18.1],[60008.80,18.8],[60009.04,16.8],[60009.28,18.4],[60009.51,17.5],[60009.75,18.8],[60009.99,16.8],
[60010.70,18.1],[60010.86,19.4],[60011.10,17.5],[60011.26,18.4],[60011.66,18.8],[60011.74,16.8]
];

// ---- build ----
const FONT = '"Liberation Sans", Arial, Helvetica, sans-serif';
const INK = '#000';
function bandPoints(vals, start) { return vals.map((v, i) => [start + i * bandStep, v]); }
function fmt(v) { return String(v); }

function xAx(grid, pos, ticks, len, major, name) {
  return {
    type: 'value', gridIndex: grid, position: pos, min: xMin, max: xMax,
    axisLine: { show: major, onZero: false, lineStyle: { color: INK, width: 2 } },
    axisTick: { show: true, customValues: ticks, length: len, lineStyle: { color: INK, width: 1 } },
    axisLabel: { show: major && pos === 'bottom', customValues: ticks, formatter: fmt, margin: 10,
                 fontSize: 17, color: INK, fontFamily: FONT },
    splitLine: { show: false },
    name: name || '', nameLocation: 'middle', nameGap: 34,
    nameTextStyle: { fontSize: 23, color: INK, fontFamily: FONT }
  };
}
function yAx(grid, pos, min, max, ticks, len, major, name) {
  return {
    type: 'value', gridIndex: grid, position: pos, min: min, max: max,
    axisLine: { show: major, onZero: false, lineStyle: { color: INK, width: 2 } },
    axisTick: { show: true, customValues: ticks, length: len, lineStyle: { color: INK, width: 1 } },
    axisLabel: { show: major && pos === 'left', customValues: ticks, formatter: fmt, margin: 13,
                 fontSize: 17, color: INK, fontFamily: FONT },
    splitLine: { show: false },
    name: name || '', nameLocation: 'middle', nameGap: 38, nameRotate: 90,
    nameTextStyle: { fontSize: 23, color: INK, fontFamily: FONT }
  };
}

const xAxes = [], yAxes = [];
[0, 1].forEach(g => {
  xAxes.push(xAx(g, 'bottom', xMajorTicks, 6, true, g === 1 ? xTitle : ''));
  xAxes.push(xAx(g, 'bottom', xMinorTicks, 3, false));
  xAxes.push(xAx(g, 'top', xMajorTicks, 6, true));
  xAxes.push(xAx(g, 'top', xMinorTicks, 3, false));
});
[[c1Min, c1Max, c1MajorTicks, c1MinorTicks, c1Title], [c2Min, c2Max, c2MajorTicks, c2MinorTicks, c2Title]]
.forEach(([mn, mx, maj, mnr, title], g) => {
  yAxes.push(yAx(g, 'left', mn, mx, maj, 6, true, title));
  yAxes.push(yAx(g, 'left', mn, mx, mnr, 3, false));
  yAxes.push(yAx(g, 'right', mn, mx, maj, 6, true));
  yAxes.push(yAx(g, 'right', mn, mx, mnr, 3, false));
});

function dots(data, g, size) {
  return { type: 'scatter', xAxisIndex: g * 4, yAxisIndex: g * 4, data: data, large: false,
           symbol: 'circle', symbolSize: size, itemStyle: { color: INK, opacity: 1 }, silent: true };
}

const chart = echarts.init(document.getElementById('chart'), null, { renderer: 'canvas' });
chart.setOption({
  animation: false,
  backgroundColor: '#fff',
  grid: [
    { left: 73, top: 11, width: 631, height: 258 },
    { left: 73, top: 321, width: 631, height: 259 }
  ],
  xAxis: xAxes,
  yAxis: yAxes,
  series: [
    dots(bandPoints(c1BandA, bandStartA), 0, 2.6), dots(bandPoints(c1BandB, bandStartB), 0, 2.6), dots(c1Outliers, 0, 2.3),
    dots(bandPoints(c2BandA, bandStartA), 1, 2.6), dots(bandPoints(c2BandB, bandStartB), 1, 2.6), dots(c2Outliers, 1, 2.3)
  ],
  graphic: [
    { type: 'text', left: 112, top: 15, z: 100,
      style: { text: 'Median =   ' + c1Median.toFixed(2) + ' ns', fill: '#0000ff',
               font: 'bold 17px ' + FONT } },
    { type: 'text', left: 112, top: 545, z: 100,
      style: { text: 'Median =   ' + c2Median.toFixed(2) + ' ns', fill: '#0000ff',
               font: 'bold 17px ' + FONT } }
  ]
});
</script></body></html>
